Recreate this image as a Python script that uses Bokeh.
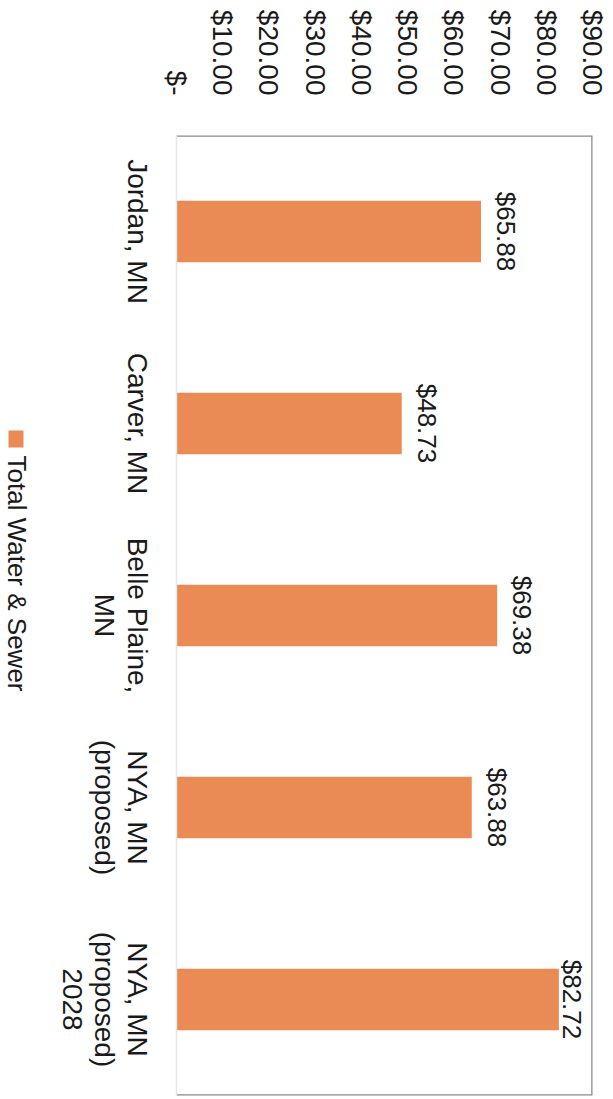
import math
from bokeh.plotting import figure
from bokeh.models import FactorRange, Range1d, FixedTicker, Label, ColumnDataSource
from bokeh.core.properties import value
from bokeh.embed import file_html
from bokeh.resources import INLINE

# ---- data ----
categories = ["Jordan, MN", "Carver, MN", "Belle Plaine,\nMN",
              "NYA, MN\n(proposed)", "NYA, MN\n(proposed)\n2028"]
values = [65.88, 48.73, 69.38, 63.88, 82.72]
value_labels = ["$65.88", "$48.73", "$69.38", "$63.88", "$82.72"]
tick_values = [0, 10, 20, 30, 40, 50, 60, 70, 80, 90]
tick_labels = ["$-", "$10.00", "$20.00", "$30.00", "$40.00",
               "$50.00", "$60.00", "$70.00", "$80.00", "$90.00"]
series_name = "Total Water & Sewer"

# ---- style / layout ----
FONT = "Liberation Sans"
BAR = "#EA8B55"
TXT = "#1a1a1a"
BORDER = "#8a8a8a"
label_offsets = [10, 10, 10, 10, -2]
W, H = 613, 1099
BOX_LEFT, RIGHT, TOP, BOTTOM = 176, 21, 135, 4
n = len(categories)
band = (H - TOP - BOTTOM) / n
pxu = (W - RIGHT - BOX_LEFT) / tick_values[-1]   # pixels per value unit


def canvas_x_to_data(px):
    return (px - BOX_LEFT) / pxu


def canvas_y_to_data(py):
    return n - (py - TOP) / band


src = ColumnDataSource(dict(cat=categories, val=values, lab=value_labels, off=label_offsets))

factors = categories[::-1]  # first category at the top
p = figure(width=W, height=H,
           x_range=Range1d(canvas_x_to_data(0), tick_values[-1]),
           y_range=FactorRange(factors=factors),
           x_axis_location="above", y_axis_location=None,
           output_backend="svg", toolbar_location=None,
           min_border_left=0, min_border_right=RIGHT,
           min_border_top=TOP, min_border_bottom=BOTTOM)

p.hbar(y="cat", right="val", left=tick_values[0], height=0.32, source=src,
       fill_color=BAR, line_color=None)

p.text(x="val", y="cat", text="lab", source=src, angle=-math.pi / 2,
       x_offset="off", text_align="center", text_baseline="bottom",
       text_font=value(FONT), text_font_size="26px", text_color=TXT)

# plot-area border: top/right/bottom grey, left very faint
p.segment(x0=[tick_values[0], tick_values[-1], tick_values[0]],
          x1=[tick_values[-1], tick_values[-1], tick_values[-1]],
          y0=[n, n, 0], y1=[n, 0, 0], line_color=BORDER, line_width=2.5)
p.segment(x0=[tick_values[0]], x1=[tick_values[0]], y0=[0], y1=[n],
          line_color="#e6e6e6", line_width=1.5)

p.xgrid.visible = False
p.ygrid.visible = False
p.outline_line_color = None
p.background_fill_color = "white"
p.border_fill_color = "white"

# value axis (top)
xa = p.xaxis[0]
xa.ticker = FixedTicker(ticks=tick_values)
xa.major_label_overrides = {t: l for t, l in zip(tick_values, tick_labels)}
xa.major_label_orientation = -math.pi / 2
xa.major_label_text_font = FONT
xa.major_label_text_font_size = "28px"
xa.major_label_text_color = TXT
xa.major_tick_line_color = None
xa.minor_tick_line_color = None
xa.major_label_standoff = 34
xa.axis_line_color = None

# category labels: rotated multi-line labels at each factor's centre
for c in categories:
    p.add_layout(Label(x=152, y=factors.index(c) + 0.5, x_units="screen", y_units="data",
                       text=c, angle=-math.pi / 2,
                       text_align="center", text_baseline="top",
                       text_line_height=1.04,
                       text_font=FONT, text_font_size="28px", text_color=TXT))

# legend (rotated)
p.rect(x=[canvas_x_to_data(15.5)], y=[canvas_y_to_data(438.5)],
       width=15, height=17, width_units="screen", height_units="screen",
       fill_color=BAR, line_color=None)
p.add_layout(Label(x=16, y=canvas_y_to_data(455), x_units="screen", y_units="data",
                   text=series_name, angle=-math.pi / 2,
                   text_align="left", text_baseline="middle",
                   text_font=FONT, text_font_size="26px", text_color=TXT))

open("out.html", "w").write(file_html(p, INLINE))
